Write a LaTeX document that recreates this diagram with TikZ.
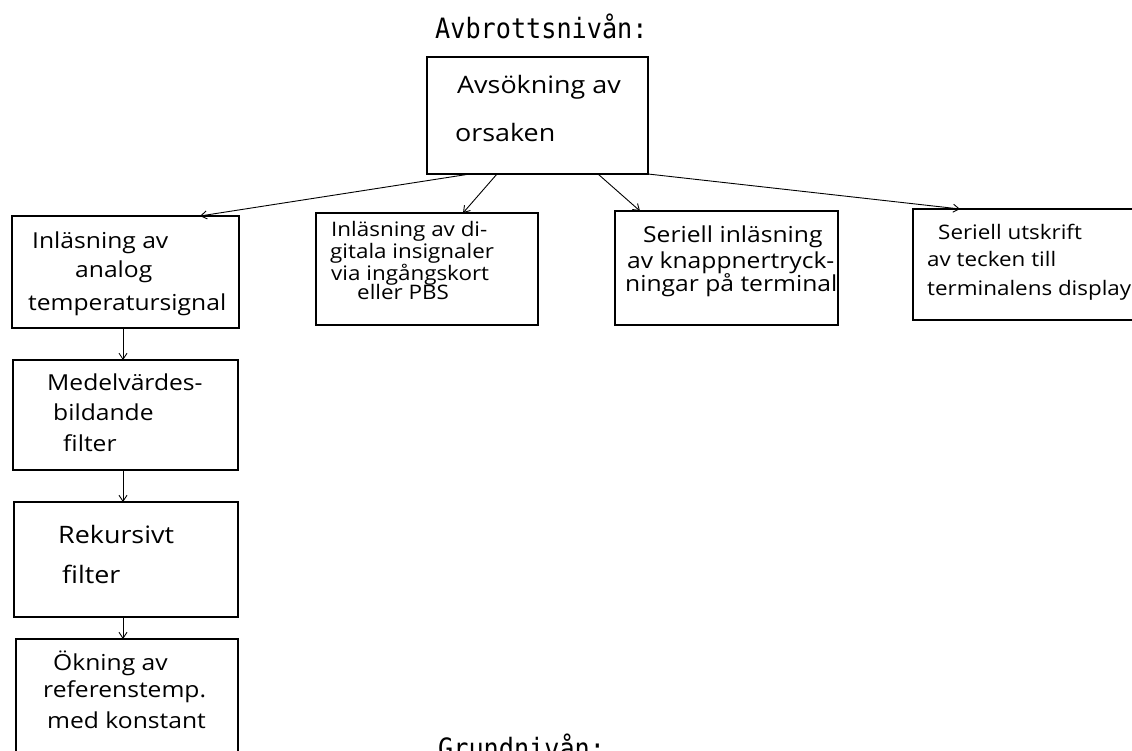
\documentclass[tikz,border=0pt]{standalone}
\usepackage{fontspec}
\newfontfamily\handfont[FakeStretch=1.12]{Open Sans}
\newfontfamily\typefont[FakeStretch=0.9]{DejaVu Sans Mono}
\usetikzlibrary{arrows.meta,calc}
\begin{document}
\begin{tikzpicture}[x=1pt,y=-1pt,
  box/.style={draw, line width=1.1pt, inner sep=0pt, outer sep=0pt, anchor=north west},
  hand/.style={anchor=base west, inner sep=0pt, font=\handfont\fontsize{22}{26}\selectfont},
  handS/.style={anchor=base west, inner sep=0pt, font=\handfont\fontsize{20}{24}\selectfont},
  handL/.style={anchor=base west, inner sep=0pt, font=\handfont\fontsize{24}{28}\selectfont},
  arr/.style={line width=0.9pt, -{Straight Barb[length=6pt,width=8pt]}},
  heading/.style={anchor=base west, inner sep=0pt, font=\typefont\fontsize{28}{32}\selectfont}]
\useasboundingbox (0,0) rectangle (1132,751);
\clip (0,0) rectangle (1132,751);

% headings
\node[heading] (h1) at (435,39) {Avbrottsnivån:};
\node[heading] (h2) at (438,758) {Grundnivån:};

% boxes
\node[box, minimum width=221pt, minimum height=117pt] (top) at (427,57) {};
\node[box, minimum width=227pt, minimum height=112pt] (b1) at (12,216) {};
\node[box, minimum width=222pt, minimum height=112pt] (b2) at (316,213) {};
\node[box, minimum width=223pt, minimum height=114pt] (b3) at (615,211) {};
\node[box, minimum width=240pt, minimum height=111pt] (b4) at (913,209) {};
\node[box, minimum width=225pt, minimum height=110pt] (b5) at (13,360) {};
\node[box, minimum width=224pt, minimum height=115pt] (b6) at (14,502) {};
\node[box, minimum width=222pt, minimum height=130pt] (b7) at (16,639) {};

% texts
\node[handL] (t0a) at (457,94) {Avsökning av};
\node[handL] (t0b) at (455,142) {orsaken};

\node[hand] (t1a) at (32,249) {Inläsning av};
\node[hand] (t1b) at (75,278) {analog};
\node[hand] (t1c) at (28,310) {temperatursignal};

\node[handS] (t2a) at (331,237) {Inläsning av di-};
\node[handS] (t2b) at (330,259) {gitala insignaler};
\node[handS] (t2c) at (331,280) {via ingångskort};
\node[handS] (t2d) at (357,299) {eller PBS};

\node[hand] (t3a) at (643,243) {Seriell inläsning};
\node[hand] (t3b) at (627,269) {av knappnertryck-};
\node[hand] (t3c) at (625,291) {ningar på terminal};

\node[handS] (t4a) at (938,240) {Seriell utskrift};
\node[handS] (t4b) at (927,267) {av tecken till};
\node[handS] (t4c) at (927,295) {terminalens display};

\node[hand] (t5a) at (47,390) {Medelvärdes-};
\node[hand] (t5b) at (53,420) {bildande};
\node[hand] (t5c) at (63,451) {filter};

\node[handL] (t6a) at (58,543) {Rekursivt};
\node[handL] (t6b) at (62,583) {filter};

\node[hand] (t7a) at (53,670) {Ökning av};
\node[hand] (t7b) at (43,697) {referenstemp.};
\node[hand] (t7c) at (47,728) {med konstant};

% connectors
\draw[arr] ($(top.south west)+(43,0)$) -- ($(b1.north west)+(188,0)$);
\draw[arr] ($(top.south west)+(70,0)$) -- ($(b2.north west)+(147,0)$);
\draw[arr] ($(top.south west)+(171,0)$) -- ($(b3.north west)+(25,0)$);
\draw[arr] (top.south east) -- ($(b4.north west)+(47,0)$);
\draw[arr] ($(b1.south west)+(111,0)$) -- ($(b5.north west)+(110,0)$);
\draw[arr] ($(b5.south west)+(110,0)$) -- ($(b6.north west)+(109,0)$);
\draw[arr] ($(b6.south west)+(109,0)$) -- ($(b7.north west)+(107,0)$);
\end{tikzpicture}
\end{document}
